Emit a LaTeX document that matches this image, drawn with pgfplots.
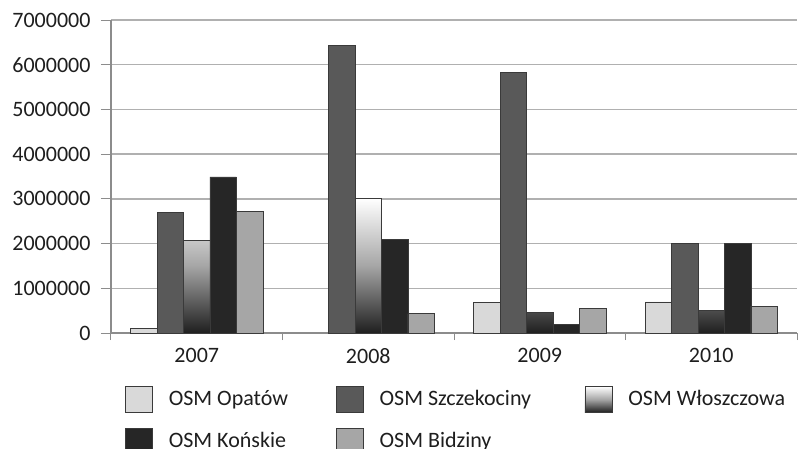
\documentclass[border=0pt]{standalone}
\usepackage{pgfplots}
\pgfplotsset{compat=1.18}
\usepackage{fontspec}
\setmainfont{Carlito}
\definecolor{cOpa}{HTML}{D9D9D9}
\definecolor{cSzc}{HTML}{595959}
\definecolor{cKon}{HTML}{262626}
\definecolor{cBid}{HTML}{A6A6A6}
\definecolor{cEdge}{HTML}{3A3A3A}
\definecolor{cGrid}{HTML}{B0B0B0}
\definecolor{cAxis}{HTML}{8C8C8C}
\definecolor{cText}{HTML}{1E1E1E}
\begin{document}
\fontsize{22bp}{26bp}\selectfont
\begin{tikzpicture}
\begin{axis}[
  scale only axis,
  width=686bp, height=313bp,
  ymin=0, ymax=7000000,
  xmin=-0.5, xmax=3.5,
  ytick={0,1000000,...,7000000},
  scaled y ticks=false,
  yticklabel style={/pgf/number format/fixed, /pgf/number format/1000 sep={}, text=cText, xshift=-3bp},
  /pgf/number format/assume math mode=true,
  xtick={0,1,2,3},
  xticklabels={2007,2008,2009,2010},
  xticklabel style={text=cText, yshift=2bp},
  major x tick style={draw=none},
  minor xtick={-0.5,0.5,1.5,2.5,3.5},
  minor x tick style={draw=cAxis, line width=1bp},
  minor tick length=7bp,
  major tick length=10bp,
  tick align=outside,
  ytick style={draw=cAxis, line width=1bp},
  axis x line*=bottom,
  axis y line*=left,
  x axis line style={draw=cAxis, line width=2bp, -},
  y axis line style={draw=cAxis, line width=1.2bp, -},
  ymajorgrids,
  grid style={draw=cGrid, line width=1.3bp},
  ybar=0pt,
  bar width=0.1545,
  legend columns=3,
  legend cell align=left,
  legend style={draw=none, fill=none, inner sep=0pt, outer sep=0pt,
    at={(0.0204,-0.1454)}, anchor=north west,
    font=\fontsize{22bp}{26bp}\selectfont, text=cText,
    nodes={inner sep=0pt, outer sep=0pt},
    column sep=0pt, row sep=0pt},
  legend image code/.code={\draw[#1] (0bp,-13bp) rectangle (27bp,13bp);
    \path (0bp,-20.5bp) (43bp,20.5bp);},
]
\addplot[fill=cOpa, draw=cEdge, line width=0.8bp] coordinates {(0,100000) (2,680000) (3,695000)};
\addplot[fill=cSzc, draw=cEdge, line width=0.8bp] coordinates {(0,2700000) (1,6430000) (2,5820000) (3,2000000)};
\addplot[top color=white, bottom color=black!88, middle color=gray!70, draw=cEdge, line width=0.8bp] coordinates {(0,2060000) (1,3010000) (2,450000) (3,510000)};
\addplot[fill=cKon, draw=cEdge, line width=0.8bp] coordinates {(0,3490000) (1,2090000) (2,195000) (3,2000000)};
\addplot[fill=cBid, draw=cEdge, line width=0.8bp] coordinates {(0,2720000) (1,435000) (2,547000) (3,600000)};
\legend{\makebox[167bp][l]{OSM Opatów},\makebox[205bp][l]{OSM Szczekociny},OSM Włoszczowa,OSM Końskie,OSM Bidziny}
\end{axis}
\pgfresetboundingbox
\path[use as bounding box] (-111bp,-116bp) rectangle (690bp,333bp);
\end{tikzpicture}
\end{document}
